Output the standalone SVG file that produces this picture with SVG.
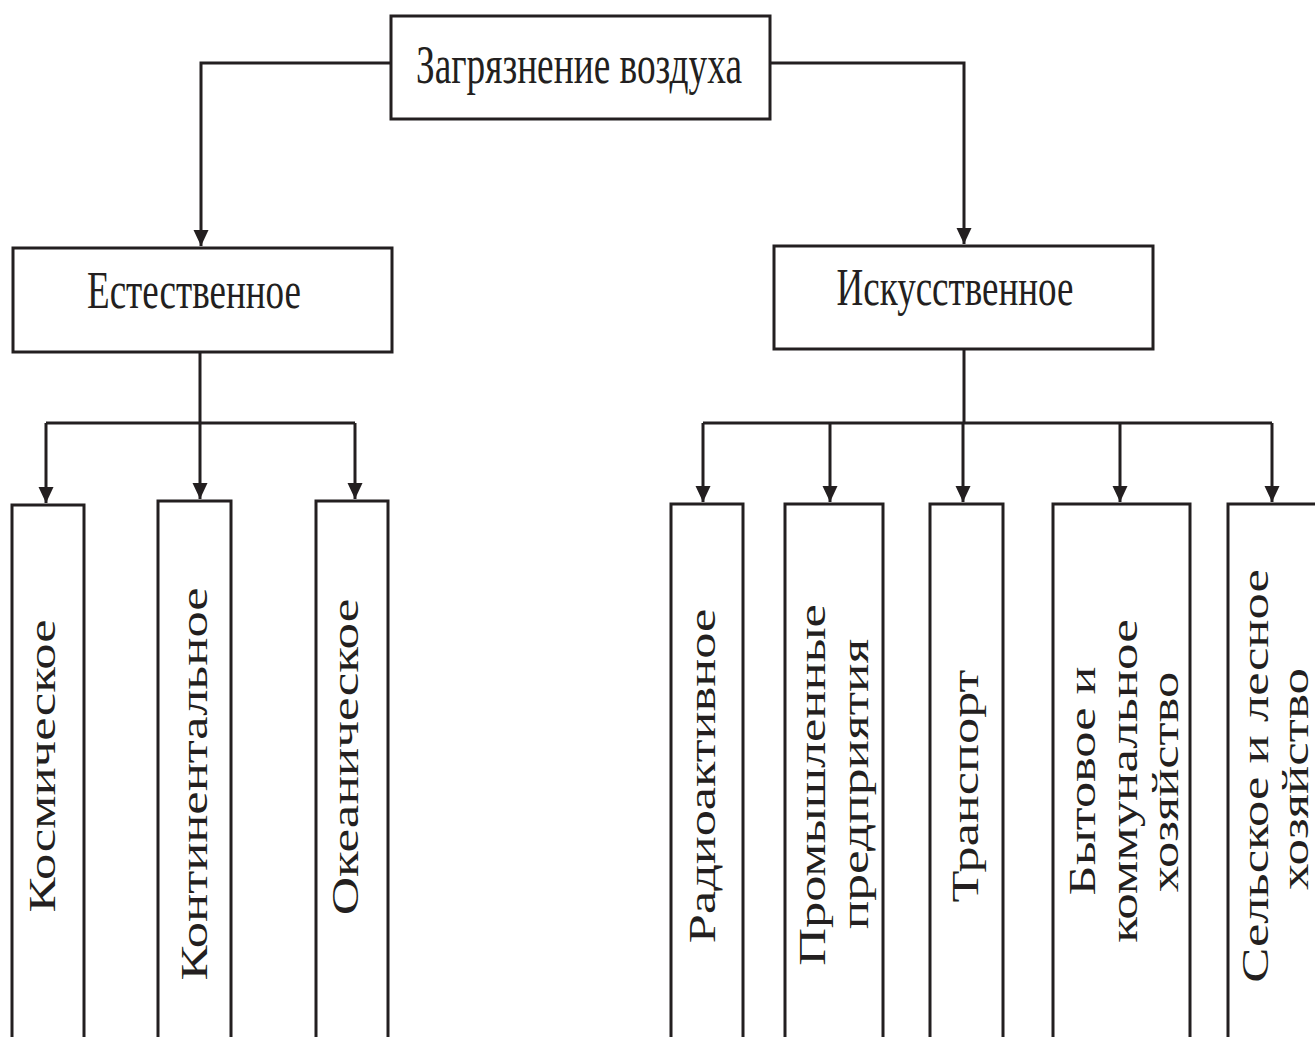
<svg xmlns="http://www.w3.org/2000/svg" width="1315" height="1037" viewBox="0 0 1315 1037">
<style>
.box{fill:#fff;stroke:#231f20;stroke-width:3}
.ln{fill:none;stroke:#231f20;stroke-width:3}
.t{font-family:"Liberation Serif","Times New Roman",serif;fill:#231f20;text-anchor:middle}
.h{font-size:40px}
.v{font-size:38px}
</style>
<defs>
<marker id="ar" markerUnits="userSpaceOnUse" markerWidth="16" markerHeight="16" viewBox="0 0 16 16" refX="16" refY="8" orient="auto">
<path d="M0,0.5 L16,8 L0,15.5 Z" fill="#231f20"/>
</marker>
</defs>
<rect width="1315" height="1037" fill="#fff"/>
<g id="connectors">
<path class="ln" d="M390,63 H201 V246" marker-end="url(#ar)"/>
<path class="ln" d="M770,63 H964 V244" marker-end="url(#ar)"/>
<path class="ln" d="M200,352 V423"/>
<path class="ln" d="M46,423 H355"/>
<path class="ln" d="M46,423 V503" marker-end="url(#ar)"/>
<path class="ln" d="M200,423 V499" marker-end="url(#ar)"/>
<path class="ln" d="M355,423 V499" marker-end="url(#ar)"/>
<path class="ln" d="M964,349 V423"/>
<path class="ln" d="M703,423 H1272"/>
<path class="ln" d="M703,423 V502" marker-end="url(#ar)"/>
<path class="ln" d="M830,423 V502" marker-end="url(#ar)"/>
<path class="ln" d="M963,423 V502" marker-end="url(#ar)"/>
<path class="ln" d="M1120,423 V502" marker-end="url(#ar)"/>
<path class="ln" d="M1272,423 V502" marker-end="url(#ar)"/>
</g>
<g id="n-root">
<rect class="box" x="391" y="16" width="379" height="103"/>
<text class="t h" transform="translate(579,83) scale(1,1.37)" textLength="326" lengthAdjust="spacingAndGlyphs">Загрязнение воздуха</text>
</g>
<g id="n-natural">
<rect class="box" x="13" y="248" width="379" height="104"/>
<text class="t h" style="font-size:39px" transform="translate(194,308) scale(1,1.37)" textLength="214" lengthAdjust="spacingAndGlyphs">Естественное</text>
</g>
<g id="n-artificial">
<rect class="box" x="774" y="246" width="379" height="103"/>
<text class="t h" style="font-size:39px" transform="translate(955,305) scale(1,1.37)" textLength="237" lengthAdjust="spacingAndGlyphs">Искусственное</text>
</g>
<g id="n-cosmic">
<rect class="box" x="12" y="505" width="72" height="560"/>
<text class="t v" transform="translate(55,766) scale(1,1.37) rotate(-90)" textLength="214" lengthAdjust="spacingAndGlyphs">Космическое</text>
</g>
<g id="n-continental">
<rect class="box" x="158" y="501" width="73" height="560"/>
<text class="t v" transform="translate(207,784) scale(1,1.37) rotate(-90)" textLength="287" lengthAdjust="spacingAndGlyphs">Континентальное</text>
</g>
<g id="n-oceanic">
<rect class="box" x="316" y="501" width="72" height="560"/>
<text class="t v" transform="translate(358,757) scale(1,1.37) rotate(-90)" textLength="231" lengthAdjust="spacingAndGlyphs">Океаническое</text>
</g>
<g id="n-radio">
<rect class="box" x="671" y="504" width="72" height="560"/>
<text class="t v" transform="translate(715,776) scale(1,1.37) rotate(-90)" textLength="244" lengthAdjust="spacingAndGlyphs">Радиоактивное</text>
</g>
<g id="n-industry">
<rect class="box" x="785" y="504" width="98" height="560"/>
<text class="t v" transform="translate(825,785) scale(1,1.37) rotate(-90)" textLength="264" lengthAdjust="spacingAndGlyphs">Промышленные</text>
<text class="t v" transform="translate(868,784) scale(1,1.37) rotate(-90)" textLength="212" lengthAdjust="spacingAndGlyphs">предприятия</text>
</g>
<g id="n-transport">
<rect class="box" x="930" y="504" width="73" height="560"/>
<text class="t v" transform="translate(978,786) scale(1,1.37) rotate(-90)" textLength="170" lengthAdjust="spacingAndGlyphs">Транспорт</text>
</g>
<g id="n-household">
<rect class="box" x="1053" y="504" width="137" height="560"/>
<text class="t v" transform="translate(1095,781) scale(1,1.37) rotate(-90)" textLength="167" lengthAdjust="spacingAndGlyphs">Бытовое и</text>
<text class="t v" transform="translate(1137,781) scale(1,1.37) rotate(-90)" textLength="236" lengthAdjust="spacingAndGlyphs">коммунальное</text>
<text class="t v" transform="translate(1178,782) scale(1,1.37) rotate(-90)" textLength="161" lengthAdjust="spacingAndGlyphs">хозяйство</text>
</g>
<g id="n-agri">
<rect class="box" x="1228" y="504" width="120" height="560"/>
<text class="t v" transform="translate(1268,776) scale(1,1.37) rotate(-90)" textLength="302" lengthAdjust="spacingAndGlyphs">Сельское и лесное</text>
<text class="t v" transform="translate(1308,779) scale(1,1.37) rotate(-90)" textLength="162" lengthAdjust="spacingAndGlyphs">хозяйство</text>
</g>
</svg>
